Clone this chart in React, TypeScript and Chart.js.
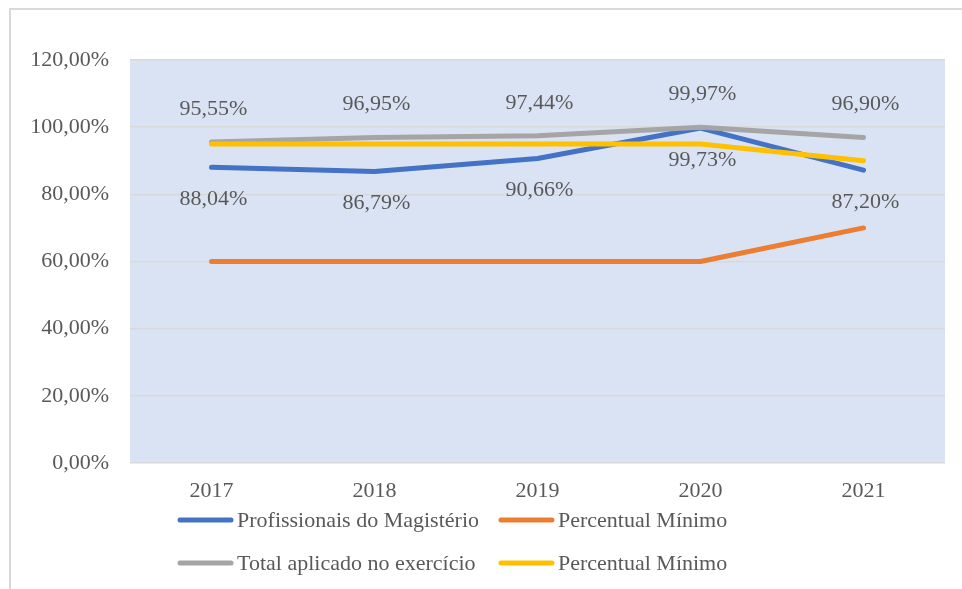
import React, { useEffect, useRef } from "react";
import { Chart, registerables } from "chart.js";

Chart.register(...registerables);

// ---- data ----
const years = ["2017", "2018", "2019", "2020", "2021"];
const profissionaisMagisterio = [88.04, 86.79, 90.66, 99.73, 87.2];
const percentualMinimoMagisterio = [60, 60, 60, 60, 70];
const totalAplicado = [95.55, 96.95, 97.44, 99.97, 96.9];
const percentualMinimoTotal = [95, 95, 95, 95, 90];

const seriesNames = [
  "Profissionais do Magistério",
  "Percentual Mínimo",
  "Total aplicado no exercício",
  "Percentual Mínimo",
];
const seriesColors = ["#4472c4", "#ed7d31", "#a5a5a5", "#ffc000"];
const yMin = 0;
const yMax = 120;
const yStep = 20;

const FONT = "'Liberation Serif', 'Times New Roman', serif";
const FONT_SIZE = 22;
const TEXT = "#595959";
const GRID = "#d9d9d9";
const PLOT_BG = "#dae3f3";

const fmt = (v: number) => v.toFixed(2).replace(".", ",") + "%";

// data labels: dataset index -> vertical offset (px)
const labelOffsets: Record<number, number> = { 0: 32, 2: -33 };

const plotBgPlugin = {
  id: "plotBg",
  beforeDraw(chart: any) {
    const { ctx, chartArea: a } = chart;
    ctx.save();
    ctx.fillStyle = PLOT_BG;
    ctx.fillRect(a.left, a.top, a.right - a.left, a.bottom - a.top);
    ctx.restore();
  },
};

const dataLabelPlugin = {
  id: "dataLabels",
  afterDatasetsDraw(chart: any) {
    const { ctx } = chart;
    ctx.save();
    ctx.font = `${FONT_SIZE}px ${FONT}`;
    ctx.fillStyle = TEXT;
    ctx.textAlign = "center";
    ctx.textBaseline = "middle";
    Object.keys(labelOffsets).forEach((k) => {
      const i = Number(k);
      const meta = chart.getDatasetMeta(i);
      const ds = chart.data.datasets[i];
      meta.data.forEach((pt: any, j: number) => {
        ctx.fillText(fmt(ds.data[j] as number), pt.x + 2, pt.y + labelOffsets[i]);
      });
    });
    ctx.restore();
  },
};

const legendPlugin = {
  id: "customLegend",
  afterDraw(chart: any) {
    const { ctx, chartArea } = chart;
    const rows = [
      [0, 1],
      [2, 3],
    ];
    ctx.save();
    ctx.font = `${FONT_SIZE}px ${FONT}`;
    ctx.textBaseline = "middle";
    ctx.textAlign = "left";
    const lineLen = 55;
    const gapText = 4;
    const gapItem = 20;
    const startX = chartArea.left + 48;
    const col1Width = Math.max(
      ctx.measureText(seriesNames[0]).width,
      ctx.measureText(seriesNames[2]).width
    );
    const col2X = startX + lineLen + gapText + col1Width + gapItem;
    const rowYs = [chartArea.bottom + 57, chartArea.bottom + 100];
    rows.forEach((row, r) => {
      row.forEach((idx, c) => {
        const x = c === 0 ? startX : col2X;
        const y = rowYs[r];
        ctx.strokeStyle = seriesColors[idx];
        ctx.lineWidth = 5;
        ctx.lineCap = "round";
        ctx.beginPath();
        ctx.moveTo(x + 2, y);
        ctx.lineTo(x + lineLen - 2, y);
        ctx.stroke();
        ctx.fillStyle = TEXT;
        ctx.fillText(seriesNames[idx], x + lineLen + gapText, y + 1);
      });
    });
    ctx.restore();
  },
};

export default function App() {
  const ref = useRef<HTMLCanvasElement | null>(null);

  useEffect(() => {
    if (!ref.current) return;
    const values = [
      profissionaisMagisterio,
      percentualMinimoMagisterio,
      totalAplicado,
      percentualMinimoTotal,
    ];
    const drawOrder = [4, 3, 2, 1];
    const chart = new Chart(ref.current, {
      type: "line",
      data: {
        labels: years,
        datasets: values.map((d, i) => ({
          label: seriesNames[i],
          data: d,
          borderColor: seriesColors[i],
          backgroundColor: seriesColors[i],
          borderWidth: 5,
          borderCapStyle: "round" as const,
          borderJoinStyle: "round" as const,
          pointRadius: 0,
          tension: 0,
          fill: false,
          order: drawOrder[i],
        })),
      },
      options: {
        responsive: false,
        animation: false,
        layout: { padding: { left: 19, right: 17, top: 50, bottom: 86 } },
        plugins: {
          legend: { display: false },
          tooltip: { enabled: false },
          title: { display: false },
        },
        scales: {
          x: {
            offset: true,
            grid: { display: false, drawTicks: false },
            border: { display: false },
            ticks: {
              color: TEXT,
              font: { family: FONT, size: FONT_SIZE },
              padding: 15,
            },
            afterFit: (scale: any) => {
              scale.height = 40;
            },
          },
          y: {
            min: yMin,
            max: yMax,
            grid: { color: GRID, lineWidth: 1.5, drawTicks: false },
            border: { display: false },
            ticks: {
              stepSize: yStep,
              color: TEXT,
              font: { family: FONT, size: FONT_SIZE },
              padding: 21,
              callback: (v: any) => fmt(Number(v)),
            },
            afterFit: (scale: any) => {
              scale.width = 100;
            },
          },
        },
      },
      plugins: [plotBgPlugin, dataLabelPlugin, legendPlugin],
    });
    return () => chart.destroy();
  }, []);

  return (
    <div
      style={{
        position: "fixed",
        left: 9,
        top: 8,
        width: 951,
        height: 579,
        borderLeft: "2px solid #d9d9d9",
        borderTop: "2px solid #d9d9d9",
        background: "#fff",
      }}
    >
      <canvas ref={ref} width={951} height={579} style={{ display: "block", width: 951, height: 579 }} />
    </div>
  );
}
